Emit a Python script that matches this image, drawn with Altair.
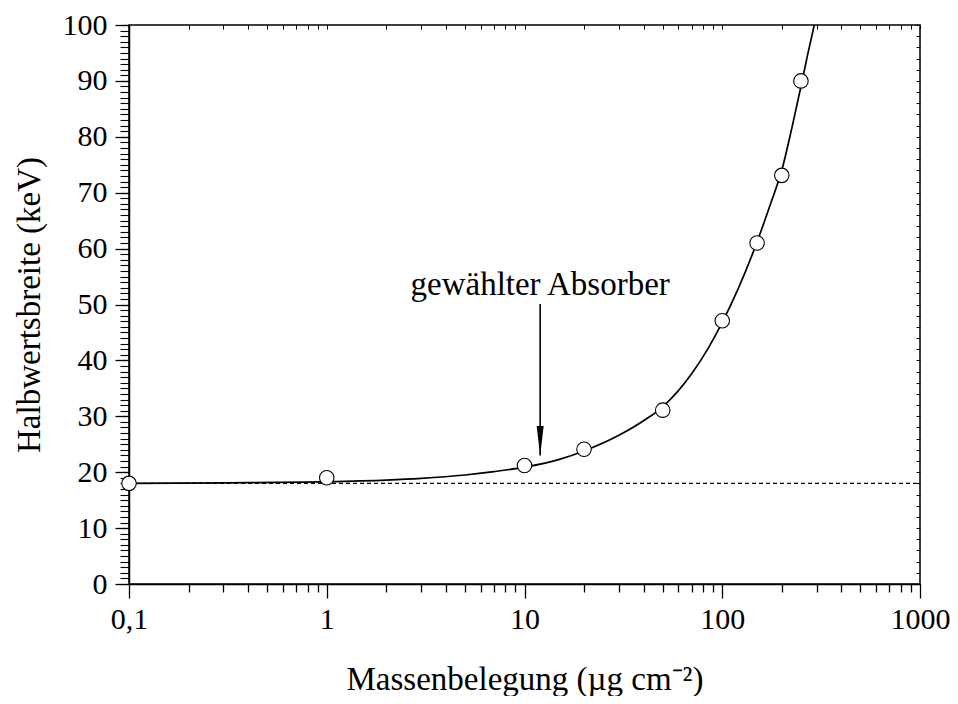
import altair as alt
import pandas as pd

# measured points
mass = [0.1, 1, 10, 20, 50, 100, 150, 200, 250]
fwhm = [18.0, 19.0, 21.2, 24.1, 31.1, 47.1, 61.0, 73.1, 90.0]

# fitted curve
curve_x = [0.1, 0.3, 1, 2, 3, 5, 7, 10, 15, 20, 30, 40, 50, 70, 85,
           100, 120, 150, 175, 200, 225, 250, 270, 292]
curve_y = [18.0, 18.1, 18.3, 18.6, 18.9, 19.5, 20.1, 20.9, 22.3, 23.8, 26.6,
           29.2, 31.7, 37.6, 42.2, 46.8, 52.7, 61.2, 67.9, 74.0, 81.6,
           89.0, 94.6, 100.0]

# dashed baseline (intrinsic width)
base_x = [0.1, 1000]
base_y = [18.0, 18.0]

# annotation
arrow_x = [12]
arrow_y_start = [50.1]
arrow_y_end = [23.0]
label_text = ["gewählter Absorber"]
label_y = [51.7]

# ticks
x_major = [0.1, 1, 10, 100, 1000]
x_minor = [m * d for d in [0.1, 1, 10, 100] for m in range(2, 10)]
x_all = x_major + x_minor
y_major = list(range(0, 101, 10))
y_minor = list(range(0, 101, 1))
y_right = list(range(0, 101, 2))

FONT = "Liberation Serif"

pts = pd.DataFrame({"x": mass, "y": fwhm})
crv = pd.DataFrame({"x": curve_x, "y": curve_y})
bas = pd.DataFrame({"x": base_x, "y": base_y})
arr = pd.DataFrame({"x": arrow_x, "y": arrow_y_start, "y2": arrow_y_end})
lab = pd.DataFrame({"x": arrow_x, "y": label_y, "t": label_text})

xs = alt.Scale(type="log", domain=[0.1, 1000], nice=False)
ys = alt.Scale(domain=[0, 100], nice=False)

common = dict(grid=False, tickColor="black", domainColor="black",
              labelColor="black", titleColor="black", labelFont=FONT,
              titleFont=FONT, titleFontWeight="normal", tickWidth=1.3,
              domainWidth=1.5)

x_major_axis = alt.Axis(orient="bottom", values=x_major, tickSize=14,
                        labelExpr="datum.value < 1 ? '0,1' : format(datum.value, 'd')",
                        labelFontSize=30, labelPadding=6, labelFlush=False,
                        labelOverlap=False, title="Massenbelegung (µg cm⁻²)",
                        titleFontSize=33, titlePadding=29, **common)
y_major_axis = alt.Axis(orient="left", values=y_major, tickSize=14,
                        labelFontSize=30, labelPadding=8, labelOverlap=False,
                        title="Halbwertsbreite (keV)", titleFontSize=33,
                        titlePadding=16, **common)
x_minor_axis = alt.Axis(orient="bottom", values=x_minor, tickSize=8,
                        labels=False, domain=False, title=None, grid=False,
                        tickColor="black", tickWidth=1.3)
y_minor_axis = alt.Axis(orient="left", values=y_minor, tickSize=9,
                        labels=False, domain=False, title=None, grid=False,
                        tickColor="black", tickWidth=1.1)
x_top_axis = alt.Axis(orient="top", values=x_all, tickSize=4, offset=-4,
                      labels=False, domain=False, title=None, grid=False,
                      tickColor="black", tickWidth=1)
y_right_axis = alt.Axis(orient="right", values=y_right, tickSize=4, offset=-4,
                        labels=False, domain=False, title=None, grid=False,
                        tickColor="black", tickWidth=1)

curve = alt.Chart(crv).mark_line(color="black", strokeWidth=1.7,
                                 interpolate="monotone").encode(
    x=alt.X("x:Q", scale=xs, axis=x_major_axis),
    y=alt.Y("y:Q", scale=ys, axis=y_major_axis),
)

baseline = alt.Chart(bas).mark_line(color="black", strokeWidth=1.1,
                                    strokeDash=[4, 3]).encode(
    x=alt.X("x:Q", scale=xs, axis=x_top_axis),
    y=alt.Y("y:Q", scale=ys, axis=y_right_axis),
)

points = alt.Chart(pts).mark_point(shape="circle", filled=True, fill="white",
                                   stroke="black", strokeWidth=1.1,
                                   size=210, opacity=1).encode(
    x=alt.X("x:Q", scale=xs, axis=x_minor_axis),
    y=alt.Y("y:Q", scale=ys, axis=y_minor_axis),
)

shaft = alt.Chart(arr).mark_rule(color="black", strokeWidth=1.6).encode(
    x=alt.X("x:Q", scale=xs, axis=None),
    y=alt.Y("y:Q", scale=ys, axis=None),
    y2="y2:Q",
)

head = alt.Chart(arr).mark_point(shape="M-0.24,-2 L0.24,-2 L0,0 Z",
                                 filled=True, color="black", size=860,
                                 opacity=1).encode(
    x=alt.X("x:Q", scale=xs, axis=None),
    y=alt.Y("y2:Q", scale=ys, axis=None),
)

label = alt.Chart(lab).mark_text(font=FONT, fontSize=33, color="black",
                                 align="center", baseline="alphabetic").encode(
    x=alt.X("x:Q", scale=xs, axis=None),
    y=alt.Y("y:Q", scale=ys, axis=None),
    text="t:N",
)

chart = alt.layer(curve, baseline, shaft, head, label, points).resolve_axis(
    x="independent", y="independent"
).properties(
    width=942, height=688,
    autosize=alt.AutoSizeParams(type="fit", contains="padding"),
    padding={"left": 5, "top": 2, "right": 0, "bottom": 0},
).configure_view(stroke="black", strokeWidth=1.5)

chart.save("out.html", embed_options={"renderer": "svg", "actions": False})
